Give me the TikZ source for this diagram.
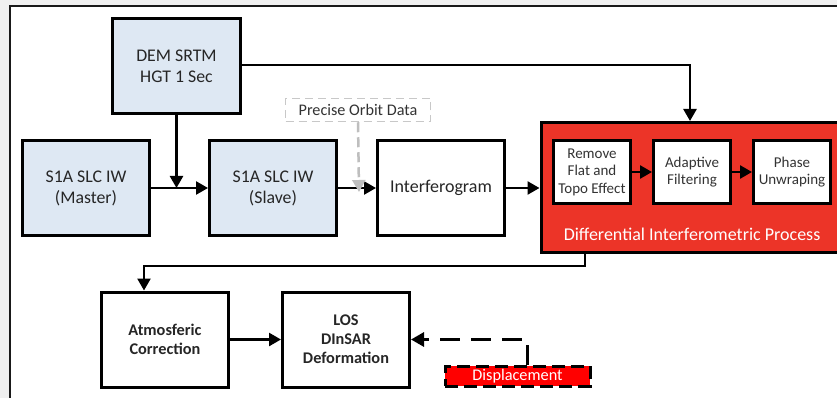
\documentclass[tikz,border=0pt]{standalone}
\usepackage{fontspec}
\setmainfont{Carlito}
\usetikzlibrary{arrows.meta,calc}
\definecolor{bgray}{HTML}{F0F0F0}
\definecolor{lblue}{HTML}{DEE8F3}
\definecolor{pred}{HTML}{EC3428}
\definecolor{dgray}{HTML}{C8C8C8}
\definecolor{agray}{HTML}{BEBEBE}
\tikzset{
  blk/.style={draw=black,line width=3pt,minimum width=127pt,minimum height=95pt,align=center,inner sep=2pt,text=black!85},
  bluebox/.style={blk,fill=lblue,font=\fontsize{17.8}{21}\selectfont},
  whitebox/.style={blk,fill=white,font=\fontsize{18}{21}\selectfont},
  boldbox/.style={blk,fill=white,font=\fontsize{16.3}{19}\selectfont\bfseries},
  inbox/.style={draw=black,line width=3pt,fill=white,minimum width=77pt,minimum height=63pt,align=center,inner sep=1pt,font=\fontsize{15}{17.5}\selectfont,text=black!80},
  arr/.style={line width=2.5pt,-{Triangle[length=12pt,width=13pt]}},
  garr/.style={line width=2.5pt,agray,dash pattern=on 10pt off 5pt,-{Triangle[length=12pt,width=13pt]}},
  dasharr/.style={line width=3pt,dash pattern=on 20pt off 11pt,-{Triangle[length=13pt,width=14pt]}},
}
\begin{document}
\begin{tikzpicture}[x=1pt,y=-1pt]
\useasboundingbox (0,0) rectangle (837,398);
\fill[bgray] (0,0) rectangle (837,398);
\draw[line width=2pt,draw=black!90,fill=white] (10,6) rectangle (860,420);
% top row
\node[bluebox,minimum width=128pt,minimum height=95pt] (DEM) at (176.5,66) {DEM SRTM\\HGT 1 Sec};
\node[bluebox] (Master) at (86,188) {S1A SLC IW\\(Master)};
\node[bluebox] (Slave) at (273,188) {S1A SLC IW\\(Slave)};
\node[whitebox] (Interf) at (441,188) {Interferogram};
\node[draw=dgray,dash pattern=on 8pt off 5pt,line width=1.5pt,fill=white,minimum width=145pt,minimum height=23pt,inner sep=1pt,font=\fontsize{16.2}{18}\selectfont,text=black!80] (Orbit) at (358,110) {Precise Orbit Data};
% red process box
\node[draw=black,line width=3pt,fill=pred,minimum width=300pt,minimum height=130pt,inner sep=0pt] (Red) at (691,187.5) {};
\node[inbox] (Remove) at (592,172) {Remove\\Flat and\\Topo Effect};
\node[inbox] (Adapt) at (692,172) {Adaptive\\Filtering};
\node[inbox] (Phase) at (792,172) {Phase\\Unwraping};
\node[text=white,font=\fontsize{18}{20}\selectfont,inner sep=0pt] (DIP) at (692,234) {Differential Interferometric Process};
% bottom row
\node[boldbox] (Atmos) at (165,339.5) {Atmosferic\\Correction};
\node[boldbox] (LOS) at (346,339.5) {LOS\\DInSAR\\Deformation};
\node[draw=black,line width=3pt,dash pattern=on 13pt off 6pt,fill=red,minimum width=145pt,minimum height=20pt,inner sep=0pt,text=white,font=\fontsize{16.3}{18}\selectfont] (Disp) at (517.5,376) {Displacement};
% connectors
\draw[arr] (DEM.east |- 0,65) -| ([xshift=-2pt]Red.north -| Adapt.north);
\draw[arr] (DEM.south) -- (DEM.south |- Master.east);
\draw[arr] (Master.east) -- (Slave.west);
\draw[arr] (Slave.east) -- (Interf.west);
\draw[garr] (Orbit.south) -- ([xshift=1pt,yshift=-4pt]Orbit.south |- Slave.east);
\draw[arr] (Interf.east) -- (Red.west |- Interf.east);
\draw[arr] (Remove.east) -- (Adapt.west);
\draw[arr] (Adapt.east) -- (Phase.west);
\draw[arr] ([xshift=-7pt]Red.south -| Remove.south) -- ++(0,12) -| ([xshift=-21pt]Atmos.north);
\draw[arr] (Atmos.east) -- (LOS.west);
\draw[dasharr] ([xshift=10pt]Disp.north) |- (LOS.east);
\end{tikzpicture}
\end{document}
